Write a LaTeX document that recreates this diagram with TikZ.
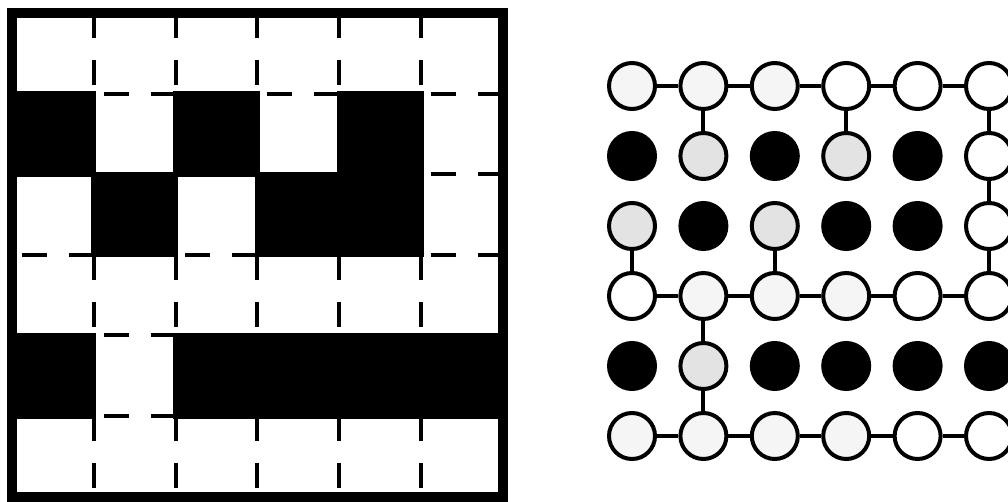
\documentclass[tikz,border=0pt]{standalone}
\usepackage{xcolor}
\usepackage{tikz}
\colorlet{dotlight}{black!4}
\colorlet{dotdense}{black!11}

\begin{document}
\begin{tikzpicture}[x=1pt, y=-1pt,
		cut/.style = {line width=4pt, dash pattern=on 25pt off 22pt},
		site/.style = {%
			circle, draw, line width=4pt, fill=#1,
			minimum size=46pt, inner sep=0pt}
		]
		\clip (0,0) rectangle (1008,502);
		% left board: dashed edges, black cells, frame
		\foreach \i in {1,...,5}
		\foreach \j in {0,...,5} {
			\draw[cut] ({12+81.8*\i},{13+80.6*\j}) -- ++(0,80.6);
			\draw[cut] ({12+81.8*(\j+1)},{13+80.6*\i}) -- ++(-81.8,0);
		}
		\foreach \c/\r in {1/2,3/2,5/2,2/3,4/3,5/3,1/5,3/5,4/5,5/5,6/5}
		\fill ({12+81.8*(\c-1)-2.5},{13+80.6*(\r-1)-2.5}) rectangle ++(86.8,85.6);
		\draw[line width=10.5pt] (12,13) rectangle (503,497);
		% right board
		\node (n11) [site=dotlight] at (632,86) {};
		\node (n12) [site=dotlight] at (703.4,86) {};
		\node (n13) [site=dotlight] at (774.8,86) {};
		\node (n14) [site=white] at (846.2,86) {};
		\node (n15) [site=white] at (917.6,86) {};
		\node (n16) [site=white] at (989,86) {};
		\node (n21) [site=black] at (632,156) {};
		\node (n22) [site=dotdense] at (703.4,156) {};
		\node (n23) [site=black] at (774.8,156) {};
		\node (n24) [site=dotdense] at (846.2,156) {};
		\node (n25) [site=black] at (917.6,156) {};
		\node (n26) [site=white] at (989,156) {};
		\node (n31) [site=dotdense] at (632,226) {};
		\node (n32) [site=black] at (703.4,226) {};
		\node (n33) [site=dotdense] at (774.8,226) {};
		\node (n34) [site=black] at (846.2,226) {};
		\node (n35) [site=black] at (917.6,226) {};
		\node (n36) [site=white] at (989,226) {};
		\node (n41) [site=white] at (632,296) {};
		\node (n42) [site=dotlight] at (703.4,296) {};
		\node (n43) [site=dotlight] at (774.8,296) {};
		\node (n44) [site=dotlight] at (846.2,296) {};
		\node (n45) [site=white] at (917.6,296) {};
		\node (n46) [site=white] at (989,296) {};
		\node (n51) [site=black] at (632,366) {};
		\node (n52) [site=dotdense] at (703.4,366) {};
		\node (n53) [site=black] at (774.8,366) {};
		\node (n54) [site=black] at (846.2,366) {};
		\node (n55) [site=black] at (917.6,366) {};
		\node (n56) [site=black] at (989,366) {};
		\node (n61) [site=dotlight] at (632,436) {};
		\node (n62) [site=dotlight] at (703.4,436) {};
		\node (n63) [site=dotlight] at (774.8,436) {};
		\node (n64) [site=dotlight] at (846.2,436) {};
		\node (n65) [site=white] at (917.6,436) {};
		\node (n66) [site=white] at (989,436) {};
		\foreach \from/\to in {n11/n12, n12/n13, n13/n14, n14/n15, n15/n16,
			n12/n22, n14/n24, n16/n26, n26/n36, n31/n41, n33/n43, n36/n46,
			n41/n42, n42/n43, n43/n44, n44/n45, n45/n46, n42/n52, n52/n62,
			n61/n62, n62/n63, n63/n64, n64/n65, n65/n66}
		\draw[line width=4pt] (\from) -- (\to);
	\end{tikzpicture}
\end{document}
